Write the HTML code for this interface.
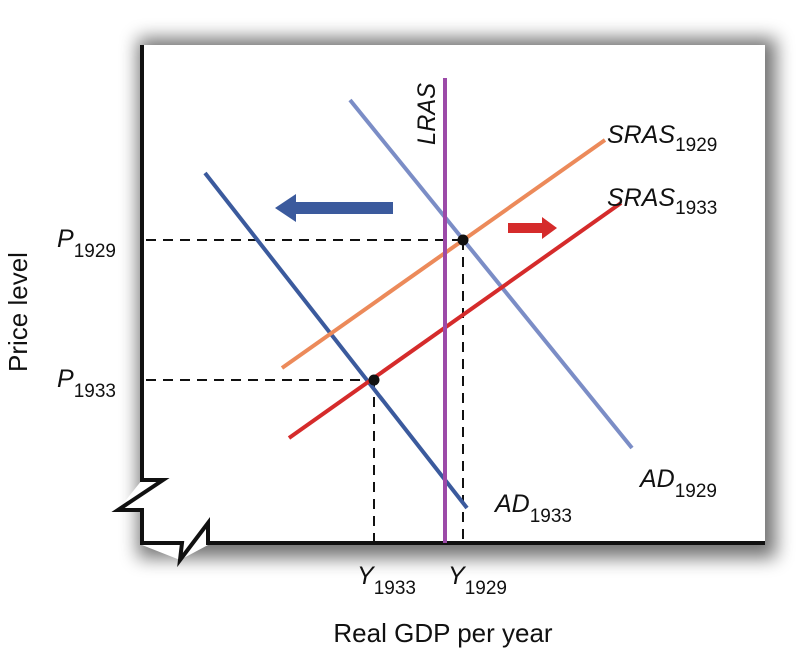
<!DOCTYPE html>
<html><head><style>
html,body{margin:0;padding:0;background:#fff;}
</style></head><body>
<svg width="809" height="654" viewBox="0 0 809 654" xmlns="http://www.w3.org/2000/svg" font-family="Liberation Sans, sans-serif">
<defs>
<filter id="sh" x="-10%" y="-10%" width="125%" height="125%">
<feGaussianBlur stdDeviation="9"/>
</filter>
</defs>
<rect width="809" height="654" fill="#fff"/>
<rect x="138" y="38" width="638" height="520" fill="#000" opacity="0.55" filter="url(#sh)"/>
<path d="M142,45 L765,45 L765,545 L208,545 L180,560 L142,545 L142,510 L118,510 L142,480 Z" fill="#fff"/>
<rect x="0" y="0" width="809" height="10" fill="#fff"/>
<!-- axes -->
<path d="M142,45 L142,480 L163,480 L118,510 L142,510 L142,543 L182,543 L180,560 L208,523 L208,543 L765,543" fill="none" stroke="#111" stroke-width="4" stroke-linejoin="miter"/>
<!-- dashed -->
<g stroke="#111" stroke-width="2" stroke-dasharray="10,7" fill="none">
<path d="M146,240 L463,240 M463,240 L463,541"/>
<path d="M146,380 L374,380 M374,380 L374,541"/>
</g>
<!-- curves -->
<line x1="350" y1="100" x2="632" y2="448" stroke="#7b8dc6" stroke-width="4"/>
<line x1="205" y1="173" x2="467" y2="508" stroke="#3b5a9d" stroke-width="4"/>
<line x1="282" y1="368" x2="605" y2="140" stroke="#ec8a5a" stroke-width="4"/>
<line x1="289" y1="438" x2="621" y2="203" stroke="#d52b2b" stroke-width="4"/>
<line x1="445" y1="78" x2="445" y2="543" stroke="#9c4aa8" stroke-width="4"/>
<circle cx="463" cy="240" r="5.5" fill="#111"/>
<circle cx="374" cy="380" r="5.5" fill="#111"/>
<!-- arrows -->
<path d="M393,202 L296,202 L296,194 L275,208 L296,222 L296,214 L393,214 Z" fill="#3b5a9d"/>
<path d="M508,223 L542,223 L542,217 L557,228 L542,239 L542,233 L508,233 Z" fill="#d52b2b"/>
<!-- labels -->
<g fill="#111" font-size="25">
<text transform="translate(435,145) rotate(-90)" font-style="italic" textLength="62" lengthAdjust="spacingAndGlyphs">LRAS</text>
<text x="607" y="143" font-style="italic">SRAS<tspan font-style="normal" font-size="19" dy="8">1929</tspan></text>
<text x="607" y="206" font-style="italic">SRAS<tspan font-style="normal" font-size="19" dy="8">1933</tspan></text>
<text x="640" y="487" font-style="italic">AD<tspan font-style="normal" font-size="19" dy="10">1929</tspan></text>
<text x="495" y="512" font-style="italic">AD<tspan font-style="normal" font-size="19" dy="10">1933</tspan></text>
<text x="57" y="247" font-style="italic">P<tspan font-style="normal" font-size="19" dy="10">1929</tspan></text>
<text x="57" y="387" font-style="italic">P<tspan font-style="normal" font-size="19" dy="10">1933</tspan></text>
<text x="357" y="584" font-style="italic">Y<tspan font-style="normal" font-size="19" dy="10">1933</tspan></text>
<text x="448" y="584" font-style="italic">Y<tspan font-style="normal" font-size="19" dy="10">1929</tspan></text>
<text x="443" y="642" text-anchor="middle" font-size="26">Real GDP per year</text>
<text transform="translate(27,312) rotate(-90)" text-anchor="middle" font-size="26">Price level</text>
</g>
</svg>
</body></html>
